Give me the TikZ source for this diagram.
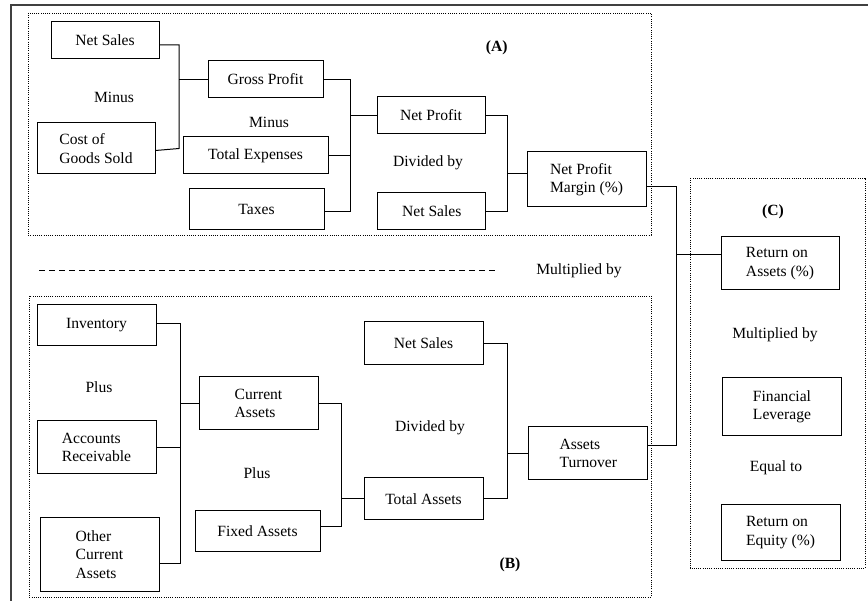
\documentclass[tikz,border=0pt]{standalone}
\usepackage{fontspec}
\setmainfont{Liberation Serif}
\tikzset{
    box/.style={draw, line width=1pt, align=left, inner sep=2pt, font=\fontsize{15.6}{18.5}\selectfont},
    lbl/.style={inner sep=1pt, font=\fontsize{15.6}{18.5}\selectfont},
    grouplbl/.style={inner sep=1pt, font=\fontsize{15.6}{18.5}\selectfont\bfseries},
    frame/.style={line width=0.9pt, dash pattern=on 1pt off 1.2pt},
    link/.style={line width=1pt}
}
\begin{document}
\begin{tikzpicture}[x=1pt, y=-1pt]
    \useasboundingbox (0,0) rectangle (868,601);

    % Outer border (top and left edge only)
    \draw[line width=1.3pt, black!75] (11,601) -- (11,5) -- (868,5);

    % Group frames
    \draw[frame] (28,13) rectangle (651,235);
    \draw[frame] (29,296) rectangle (651,597);
    \draw[frame] (690,178) rectangle (865,568);

    % Group (A): net profit margin
    \node[box, minimum width=108pt, minimum height=37pt] (salesA) at (105,40.5) {Net Sales};
    \node[box, minimum width=118pt, minimum height=51pt] (cogs) at (96,148.5) {Cost of\\Goods Sold};
    \node[box, minimum width=115pt, minimum height=37pt] (gross) at (265.5,79.5) {Gross Profit};
    \node[box, minimum width=145pt, minimum height=37pt] (expenses) at (255.5,155.5) {Total Expenses};
    \node[box, minimum width=135pt, minimum height=41pt] (taxes) at (256.5,209.5) {Taxes};
    \node[box, minimum width=108pt, minimum height=37pt] (netprofit) at (431,115.5) {Net Profit};
    \node[box, minimum width=108pt, minimum height=37pt] (salesAA) at (431.8,211.5) {Net Sales};
    \node[box, minimum width=119pt, minimum height=55pt] (margin) at (586.5,179.5) {Net Profit\\Margin (\%)};

    \node[lbl] (minusA) at (114,97) {Minus};
    \node[lbl] (minusB) at (269,122) {Minus};
    \node[lbl] (dividedA) at (428,163) {Divided by};
    \node[grouplbl] (labA) at (496.7,48) {(A)};

    % Middle separator
    \draw[line width=0.8pt, dash pattern=on 6pt off 4pt] (39,270) -- (498,270);
    \node[lbl] (multAB) at (579,271) {Multiplied by};

    % Group (B): assets turnover
    \node[box, minimum width=119pt, minimum height=41pt] (inventory) at (96.5,325.5) {Inventory};
    \node[box, minimum width=119pt, minimum height=53pt] (receivable) at (96.5,447.3) {Accounts\\Receivable};
    \node[box, minimum width=119pt, minimum height=73pt] (othercur) at (99.5,554.5) {Other\\Current\\Assets};
    \node[box, minimum width=119pt, minimum height=53pt] (current) at (258.5,403.5) {Current\\Assets};
    \node[box, minimum width=125pt, minimum height=40pt] (fixed) at (257.5,531) {Fixed Assets};
    \node[box, minimum width=119pt, minimum height=43pt] (salesB) at (423.5,343.5) {Net Sales};
    \node[box, minimum width=119pt, minimum height=42pt] (total) at (423.5,499) {Total Assets};
    \node[box, minimum width=119pt, minimum height=53pt] (turnover) at (588.3,453.5) {Assets\\Turnover};

    \node[lbl] (plusA) at (99,387) {Plus};
    \node[lbl] (plusB) at (257,473) {Plus};
    \node[lbl] (dividedB) at (430,428) {Divided by};
    \node[grouplbl] (labB) at (510,565) {(B)};

    % Group (C): return on equity
    \node[grouplbl] (labC) at (773,212) {(C)};
    \node[box, minimum width=118pt, minimum height=53pt] (roa) at (780,263.5) {Return on\\Assets (\%)};
    \node[lbl] (multC) at (775,335) {Multiplied by};
    \node[box, minimum width=119pt, minimum height=58pt] (leverage) at (782,407) {Financial\\Leverage};
    \node[lbl] (equal) at (776,468) {Equal to};
    \node[box, minimum width=119pt, minimum height=55pt] (roe) at (780.5,532.5) {Return on\\Equity (\%)};

    % Junction columns
    \coordinate (jA1) at (179,0);
    \coordinate (jA2) at (350,0);
    \coordinate (jA3) at (507.7,0);
    \coordinate (jB1) at (180,0);
    \coordinate (jB2) at (341,0);
    \coordinate (jB3) at (507,0);
    \coordinate (jM) at (676,0);

    % Connectors (A)
    \draw[link] ([yshift=-4.5pt]salesA.east) -| (jA1 |- cogs.east) -- ([yshift=-2pt]cogs.east);
    \draw[link] (jA1 |- gross.west) -- (gross.west);
    \draw[link] (gross.east) -| ([yshift=-2.5pt]jA2 |- taxes.east) -- ([yshift=-2.5pt]taxes.east);
    \draw[link] (expenses.east) -- (jA2 |- expenses.east);
    \draw[link] (jA2 |- netprofit.west) -- (netprofit.west);
    \draw[link] (netprofit.east) -| (jA3 |- salesAA.east) -- (salesAA.east);
    \draw[link] ([yshift=5.5pt]jA3 |- margin.west) -- ([yshift=5.5pt]margin.west);

    % Connectors (B)
    \draw[link] ([yshift=1.5pt]inventory.east) -| ([yshift=-8.5pt]jB1 |- othercur.east) -- ([yshift=-8.5pt]othercur.east);
    \draw[link] (receivable.east) -- (jB1 |- receivable.east);
    \draw[link] (jB1 |- current.west) -- (current.west);
    \draw[link] (current.east) -| ([yshift=5pt]jB2 |- fixed.east) -- ([yshift=5pt]fixed.east);
    \draw[link] (jB2 |- total.west) -- (total.west);
    \draw[link] (salesB.east) -| (jB3 |- total.east) -- (total.east);
    \draw[link] (jB3 |- turnover.west) -- (turnover.west);

    % Main connector to (C)
    \draw[link] ([yshift=-7.5pt]margin.east) -| ([yshift=8pt]jM |- turnover.east) -- ([yshift=8pt]turnover.east);
    \draw[link] ([yshift=8.5pt]jM |- roa.west) -- ([yshift=8.5pt]roa.west);
\end{tikzpicture}
\end{document}
